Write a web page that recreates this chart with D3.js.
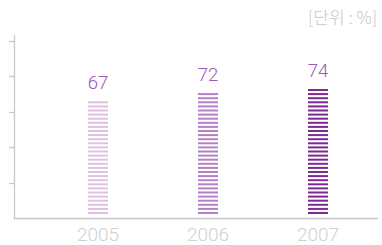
<!DOCTYPE html>
<html><head><meta charset="utf-8">
<script src="https://cdn.jsdelivr.net/npm/d3@7"></script>
<style>
html,body{margin:0;padding:0;background:#fff;}
svg{display:block;}
</style></head>
<body>
<svg id="c" width="382" height="245"></svg>
<script>
const years = ["2005", "2006", "2007"];
const values = [67, 72, 74];
const barColors = ["#dfc0df", "#b282c2", "#7d2a92"];
const unitLabel = "[단위 : %]";
const tickValues = [20, 40, 60, 80, 100];

const svg = d3.select("#c");
const axisColor = "#c8c8c8";

const x = d3.scalePoint().domain(years).range([98, 318]);
const yBar = d3.scaleLinear().domain([0, 100]).range([214, 44]);
const yTick = d3.scaleLinear().domain([0, 100]).range([218, 40.5]);

// axes
svg.append("line").attr("x1", 14.5).attr("x2", 14.5).attr("y1", 35).attr("y2", 218.5)
  .attr("stroke", axisColor).attr("stroke-width", 1.3);
svg.append("line").attr("x1", 14).attr("x2", 378).attr("y1", 218.5).attr("y2", 218.5)
  .attr("stroke", axisColor).attr("stroke-width", 1.3);
svg.selectAll(".tk").data(tickValues).enter().append("line")
  .attr("x1", 9).attr("x2", 14).attr("y1", d => Math.round(yTick(d)) + 0.5).attr("y2", d => Math.round(yTick(d)) + 0.5)
  .attr("stroke", axisColor).attr("stroke-width", 1.3);

const numFont = "Roboto, 'Liberation Sans', sans-serif";

// striped bars
const barW = 20;
years.forEach((yr, i) => {
  const top = yBar(values[i]);
  const bottom = yBar(0);
  const g = svg.append("g");
  const stripes = d3.range(bottom - 2, top - 0.5, -4.1);
  g.selectAll("rect").data(stripes).enter().append("rect")
    .attr("x", x(yr) - barW / 2).attr("width", barW)
    .attr("y", d => d).attr("height", 2)
    .attr("fill", barColors[i]);
  svg.append("text").attr("x", x(yr)).attr("y", top - 11)
    .attr("text-anchor", "middle")
    .attr("font-family", numFont).attr("font-weight", 300)
    .attr("font-size", 18.5).attr("fill", "#9d55b3")
    .text(values[i]);
  svg.append("text").attr("x", x(yr)).attr("y", 241)
    .attr("text-anchor", "middle")
    .attr("font-family", numFont).attr("font-weight", 300)
    .attr("font-size", 19).attr("fill", "#d0d0d0")
    .text(yr);
});

svg.append("text").attr("x", 377).attr("y", 24).attr("text-anchor", "end")
  .attr("font-family", "'Noto Sans CJK KR', sans-serif").attr("font-weight", 300)
  .attr("font-size", 17).attr("fill", "#c8c8c8")
  .text(unitLabel);
</script>
</body></html>
